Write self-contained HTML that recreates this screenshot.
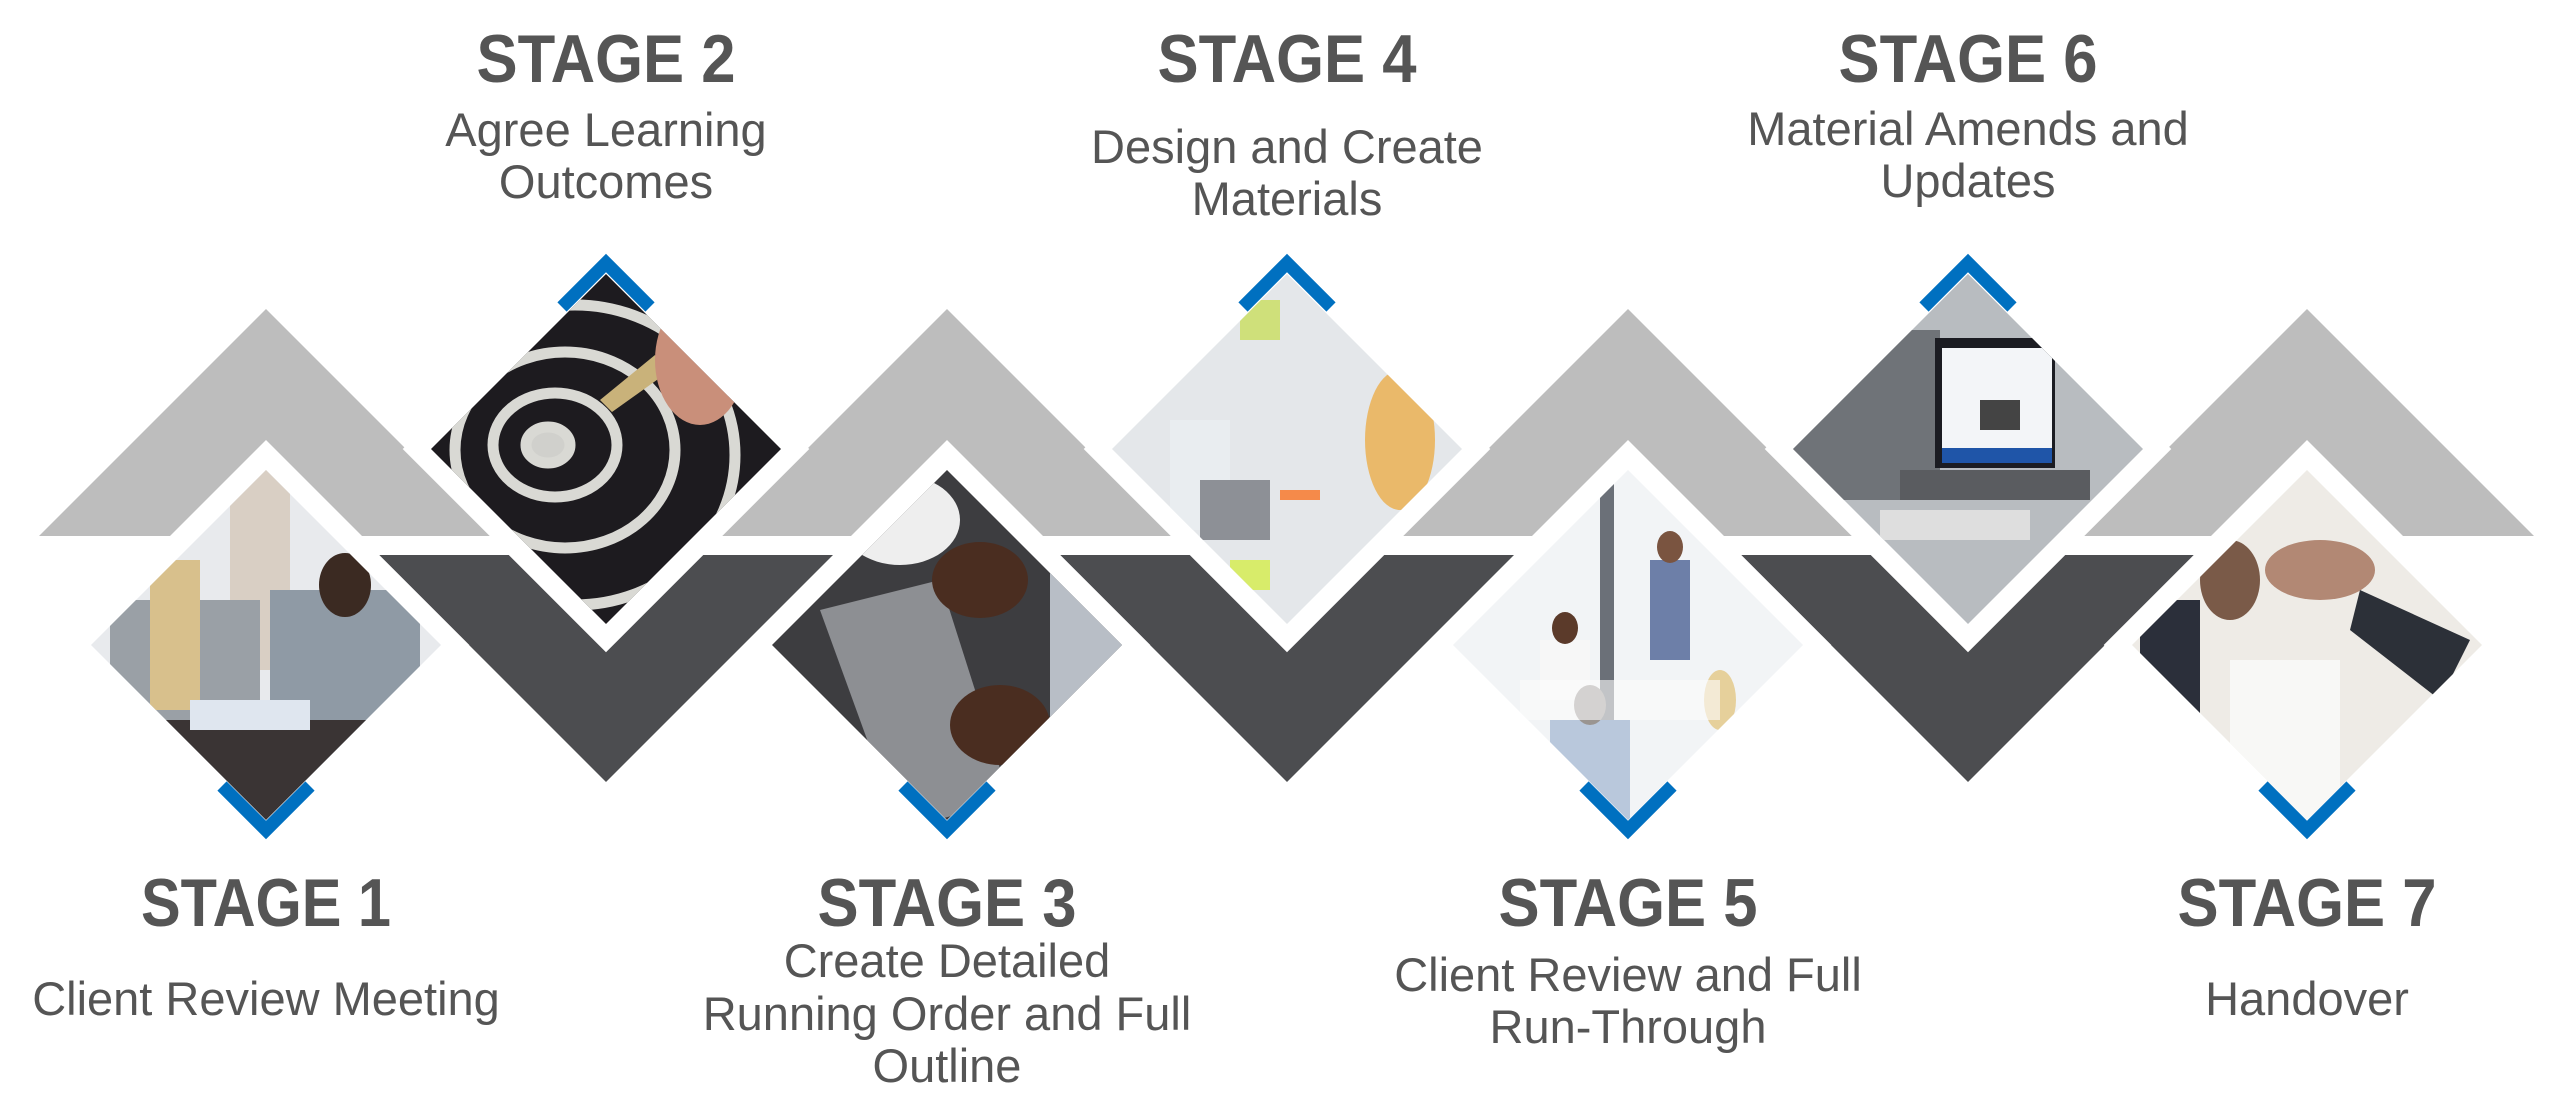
<!DOCTYPE html>
<html><head><meta charset="utf-8"><style>
html,body{margin:0;padding:0;background:#fff;}
svg{display:block;}
text{font-family:"Liberation Sans",sans-serif;fill:#555;}
.h{font-weight:bold;font-size:68px;}
.s{font-size:47px;}
</style></head><body>
<svg width="2560" height="1120" viewBox="0 0 2560 1120" xmlns="http://www.w3.org/2000/svg">
<defs>
<clipPath id="d1"><polygon points="266,470 441,645 266,820 91,645"/></clipPath>
<clipPath id="d2"><polygon points="606,274 781,449 606,624 431,449"/></clipPath>
<clipPath id="d3"><polygon points="947,470 1122,645 947,820 772,645"/></clipPath>
<clipPath id="d4"><polygon points="1287,274 1462,449 1287,624 1112,449"/></clipPath>
<clipPath id="d5"><polygon points="1628,470 1803,645 1628,820 1453,645"/></clipPath>
<clipPath id="d6"><polygon points="1968,274 2143,449 1968,624 1793,449"/></clipPath>
<clipPath id="d7"><polygon points="2307,470 2482,645 2307,820 2132,645"/></clipPath>
</defs>
<g fill="#bdbdbd">
<polygon points="266,309 493,536 362,536 266,440 170,536 39,536"/>
<polygon points="947,309 1174,536 1043,536 947,440 851,536 720,536"/>
<polygon points="1628,309 1855,536 1724,536 1628,440 1532,536 1401,536"/>
<polygon points="2307,309 2534,536 2403,536 2307,440 2211,536 2080,536"/>
</g>
<g fill="#4c4d50">
<polygon points="379,555 511,555 606,651 701,555 833,555 606,782"/>
<polygon points="1060,555 1192,555 1287,651 1382,555 1514,555 1287,782"/>
<polygon points="1741,555 1873,555 1968,651 2063,555 2195,555 1968,782"/>
</g>
<g fill="#fff" stroke="#fff" stroke-width="40" stroke-linejoin="miter">
<polygon points="266,470 441,645 266,820 91,645"/>
<polygon points="606,274 781,449 606,624 431,449"/>
<polygon points="947,470 1122,645 947,820 772,645"/>
<polygon points="1287,274 1462,449 1287,624 1112,449"/>
<polygon points="1628,470 1803,645 1628,820 1453,645"/>
<polygon points="1968,274 2143,449 1968,624 1793,449"/>
<polygon points="2307,470 2482,645 2307,820 2132,645"/>
</g>
<g clip-path="url(#d1)">
<rect x="80" y="460" width="380" height="370" fill="#e8eaed"/>
<rect x="230" y="470" width="60" height="200" fill="#d9cfc4"/>
<rect x="110" y="600" width="150" height="200" fill="#9aa0a6"/>
<rect x="150" y="560" width="50" height="150" fill="#d8c08c"/>
<rect x="270" y="590" width="150" height="190" fill="#8f9aa5"/>
<ellipse cx="345" cy="585" rx="26" ry="32" fill="#3b2a22"/>
<rect x="150" y="720" width="260" height="100" fill="#3a3434"/>
<rect x="190" y="700" width="120" height="30" fill="#dfe6ef"/>
</g>
<g clip-path="url(#d2)">
<rect x="420" y="260" width="380" height="380" fill="#1d1b1f"/>
<g fill="none" stroke="#d9d9d4" stroke-width="11">
<ellipse cx="548" cy="445" rx="22" ry="18" fill="#d0d0cc"/>
<ellipse cx="555" cy="445" rx="62" ry="52"/>
<ellipse cx="565" cy="450" rx="110" ry="98"/>
<ellipse cx="575" cy="455" rx="160" ry="150"/>
</g>
<polygon points="600,400 655,355 668,372 612,412" fill="#c9b27a"/>
<ellipse cx="700" cy="360" rx="45" ry="65" fill="#c98f7a"/>
</g>
<g clip-path="url(#d3)">
<rect x="760" y="460" width="380" height="370" fill="#3d3d40"/>
<ellipse cx="900" cy="520" rx="60" ry="45" fill="#eeeeee"/>
<polygon points="820,610 940,580 1010,800 900,830" fill="#8d8f93"/>
<g fill="#4a2d20"><ellipse cx="980" cy="580" rx="48" ry="38"/><ellipse cx="1000" cy="725" rx="50" ry="40"/></g>
<rect x="1050" y="560" width="80" height="200" fill="#b8bec6"/>
</g>
<g clip-path="url(#d4)">
<rect x="1100" y="260" width="380" height="380" fill="#e4e7ea"/>
<rect x="1240" y="300" width="40" height="40" fill="#cfe07a"/>
<rect x="1170" y="420" width="60" height="110" fill="#e9edf0"/>
<rect x="1200" y="480" width="70" height="60" fill="#8d9096"/>
<ellipse cx="1400" cy="440" rx="35" ry="70" fill="#eab96a"/>
<rect x="1230" y="560" width="40" height="30" fill="#d8ec6a"/>
<rect x="1280" y="490" width="40" height="10" fill="#f58a4a"/>
</g>
<g clip-path="url(#d5)">
<rect x="1440" y="460" width="380" height="370" fill="#f2f4f6"/>
<rect x="1600" y="470" width="14" height="250" fill="#6b7078"/>
<rect x="1650" y="560" width="40" height="100" fill="#6d7fa8"/>
<ellipse cx="1670" cy="547" rx="13" ry="16" fill="#7a5440"/>
<rect x="1540" y="640" width="50" height="60" fill="#f7f7f7"/>
<ellipse cx="1565" cy="628" rx="13" ry="16" fill="#5b3a2a"/>
<rect x="1550" y="720" width="80" height="100" fill="#b9c8dc"/>
<ellipse cx="1590" cy="705" rx="16" ry="20" fill="#9a9591"/>
<ellipse cx="1720" cy="700" rx="16" ry="30" fill="#e6d09b"/>
<rect x="1520" y="680" width="200" height="40" fill="#fbfbfb" opacity=".6"/>
</g>
<g clip-path="url(#d6)">
<rect x="1780" y="260" width="380" height="380" fill="#b8bcc0"/>
<rect x="1780" y="330" width="160" height="170" fill="#6f7378"/>
<rect x="1935" y="338" width="120" height="130" fill="#1b1c22"/>
<rect x="1942" y="348" width="110" height="115" fill="#f3f5f8"/>
<rect x="1942" y="448" width="110" height="15" fill="#1f55a8"/>
<rect x="1980" y="400" width="40" height="30" fill="#444"/>
<rect x="1900" y="470" width="190" height="30" fill="#5a5c60"/>
<rect x="1880" y="510" width="150" height="30" fill="#dedede"/>
</g>
<g clip-path="url(#d7)">
<rect x="2120" y="460" width="380" height="370" fill="#eeebe6"/>
<rect x="2140" y="600" width="60" height="120" fill="#2b2f3a"/>
<ellipse cx="2230" cy="580" rx="30" ry="40" fill="#7a5a48"/>
<ellipse cx="2320" cy="570" rx="55" ry="30" fill="#b28874"/>
<polygon points="2360,590 2470,640 2440,700 2350,630" fill="#2c3038"/>
<rect x="2230" y="660" width="110" height="160" fill="#f8f8f6"/>
</g>
<g fill="none" stroke="#0070c0" stroke-width="13" stroke-linejoin="miter" stroke-miterlimit="10">
<polyline points="222,786 266,830 310,786"/>
<polyline points="903,786 947,830 991,786"/>
<polyline points="1584,786 1628,830 1672,786"/>
<polyline points="2263,786 2307,830 2351,786"/>
<polyline points="562,307 606,263 650,307"/>
<polyline points="1243,307 1287,263 1331,307"/>
<polyline points="1924,307 1968,263 2012,307"/>
</g>
<g text-anchor="middle">
<text class="h" x="606" y="82" textLength="259" lengthAdjust="spacingAndGlyphs">STAGE 2</text>
<text class="s" x="606" y="146">Agree Learning</text>
<text class="s" x="606" y="198">Outcomes</text>
<text class="h" x="1287" y="82" textLength="259" lengthAdjust="spacingAndGlyphs">STAGE 4</text>
<text class="s" x="1287" y="163">Design and Create</text>
<text class="s" x="1287" y="215">Materials</text>
<text class="h" x="1968" y="82" textLength="259" lengthAdjust="spacingAndGlyphs">STAGE 6</text>
<text class="s" x="1968" y="145">Material Amends and</text>
<text class="s" x="1968" y="197">Updates</text>
<text class="h" x="266" y="926" textLength="250" lengthAdjust="spacingAndGlyphs">STAGE 1</text>
<text class="s" x="266" y="1015">Client Review Meeting</text>
<text class="h" x="947" y="926" textLength="259" lengthAdjust="spacingAndGlyphs">STAGE 3</text>
<text class="s" x="947" y="977">Create Detailed</text>
<text class="s" x="947" y="1030">Running Order and Full</text>
<text class="s" x="947" y="1082">Outline</text>
<text class="h" x="1628" y="926" textLength="259" lengthAdjust="spacingAndGlyphs">STAGE 5</text>
<text class="s" x="1628" y="991">Client Review and Full</text>
<text class="s" x="1628" y="1043">Run-Through</text>
<text class="h" x="2307" y="926" textLength="259" lengthAdjust="spacingAndGlyphs">STAGE 7</text>
<text class="s" x="2307" y="1015">Handover</text>
</g>
</svg>
</body></html>
